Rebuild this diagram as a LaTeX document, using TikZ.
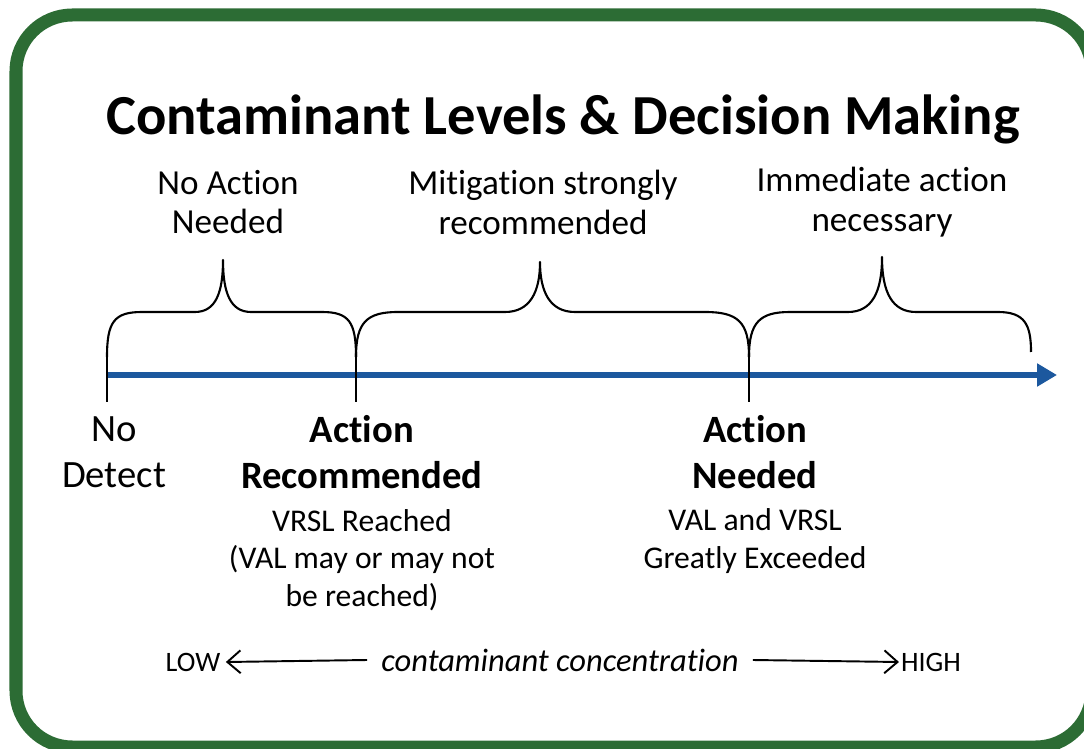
\documentclass[tikz,border=0pt]{standalone}
\usepackage{fontspec}
\setmainfont{Carlito}[Ligatures=NoCommon]
\usepackage{tikz}
\usetikzlibrary{arrows.meta,positioning}
\definecolor{framegreen}{RGB}{44,108,52}
\definecolor{axisblue}{RGB}{28,88,158}

\begin{document}
\begin{tikzpicture}[x=0.02cm,y=-0.02cm,
        brace/.style={draw=black,line width=1.2pt,line join=round},
        toplabel/.style={align=center,font=\fontsize{20}{22.7}\selectfont},
        levellabel/.style={align=center,font=\fontsize{22}{26}\selectfont\bfseries},
        detectlabel/.style={align=center,font=\fontsize{22}{26}\selectfont},
        notelabel/.style={align=center,font=\fontsize{18}{21.5}\selectfont},
        scalelabel/.style={font=\fontsize{16}{18}\selectfont}]
        \useasboundingbox (0,0) rectangle (1084,749);
        \draw [framegreen,line width=7.4pt,rounded corners=32] (16,15) rectangle (1092,747);

        \node (title) at (563,119) {\fontsize{32.2}{36}\selectfont\bfseries Contaminant Levels \& Decision Making};

        % the three ranges
        \node [toplabel] (noaction) at (228,202) {No Action\\Needed};
        \node [toplabel] (mitigation) at (543,202) {Mitigation strongly\\recommended};
        \node [toplabel] (immediate) at (882,202) {Immediate action\\necessary};

        \draw [brace] (107,357) .. controls (107,322) and (114,312) .. (142,312) -- (195,312)
            .. controls (216,312) and (223,292) .. (223,260) .. controls (223,292) and (230,312) .. (251,312)
            -- (322,312) .. controls (349,312) and (356,322) .. (356,357);
        \draw [brace] (356,357) .. controls (356,322) and (367,312) .. (398,312) -- (505,312)
            .. controls (530,312) and (540,292) .. (540,262) .. controls (540,292) and (550,312) .. (575,312)
            -- (705,312) .. controls (738,312) and (749,322) .. (749,357);
        \draw [brace] (749,357) .. controls (749,322) and (760,312) .. (790,312) -- (848,312)
            .. controls (872,312) and (882,292) .. (882,257) .. controls (882,292) and (892,312) .. (916,312)
            -- (998,312) .. controls (1025,312) and (1031,325) .. (1031,352);

        % concentration axis
        \coordinate (start) at (107,375);
        \coordinate (stop) at (1057,375);
        \draw [axisblue,line width=3.4pt,-{Triangle[length=11.3pt,width=12.5pt]}] (start) -- (stop);
        \foreach \x in {107,356,749}
            \draw [line width=1.2pt] (\x,357) -- (\x,402);

        % levels
        \node [detectlabel] (nodetect) at (114,452) {No\\Detect};
        \node [levellabel] (recommended) at (362,452) {Action\\Recommended};
        \node [notelabel] (vrsl) at (362,560) {VRSL Reached\\(VAL may or may not\\be reached)};
        \node [levellabel] (needed) at (755,452) {Action\\Needed};
        \node [notelabel] (exceeded) at (755,541) {VAL and VRSL\\Greatly Exceeded};

        % low to high
        \node [scalelabel,inner sep=3pt] (low) at (193,662) {LOW};
        \node [font=\fontsize{18.5}{21}\selectfont\itshape,inner sep=8pt] (conc) at (560,660) {contaminant concentration};
        \node [scalelabel,inner sep=1pt] (high) at (931,662) {HIGH};
        \draw [line width=1.1pt,-{Straight Barb[length=7.5pt,width=13pt]}] (conc.west) -- (low.east);
        \draw [line width=1.1pt,-{Straight Barb[length=7.5pt,width=13pt]}] (conc.east) -- (high.west);
    \end{tikzpicture}
\end{document}
